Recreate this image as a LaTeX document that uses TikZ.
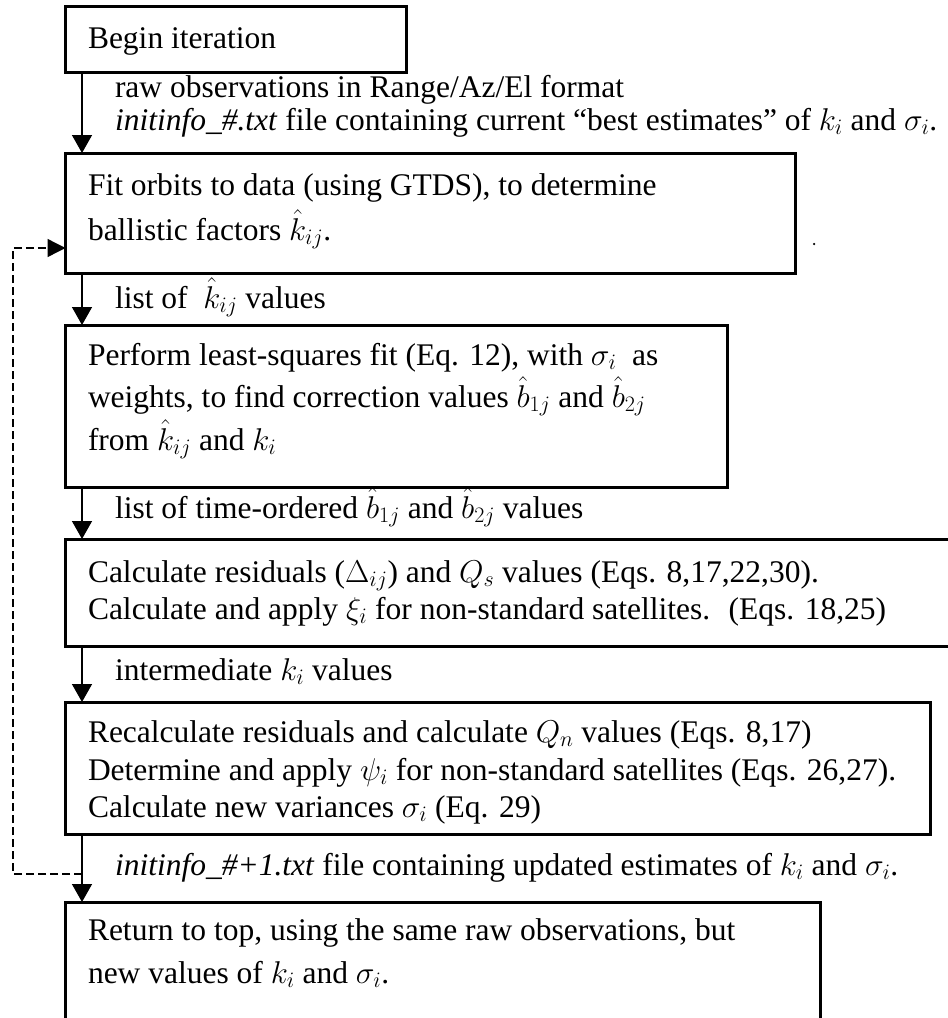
\RequirePackage{fix-cm}
\documentclass[tikz,border=0pt]{standalone}
\usepackage{fontspec}
\setmainfont{Liberation Serif}
\usetikzlibrary{arrows.meta,calc}
\tikzset{
  box/.style={draw, line width=3pt, rectangle, inner sep=0pt, outer sep=0pt, anchor=north west},
  txt/.style={anchor=base west, inner sep=0pt, outer sep=0pt},
  arr/.style={line width=1.4pt, -{Triangle[width=20pt,length=18pt]}},
  fbline/.style={line width=1.4pt, dash pattern=on 8pt off 4pt, -{Triangle[width=18pt,length=18pt]}}
}
\begin{document}
\begin{tikzpicture}[x=1pt,y=-1pt,font=\fontsize{31.5}{38}\selectfont]
\clip (0,0) rectangle (948,1018);
\fill[white] (0,0) rectangle (948,1018);
% boxes
\node[box, minimum width=341pt, minimum height=66pt] (b1) at (65.5,6) {};
\node[box, minimum width=730pt, minimum height=120pt] (b2) at (65.5,153) {};
\node[box, minimum width=662pt, minimum height=162pt] (b3) at (65.5,325) {};
\node[box, minimum width=900pt, minimum height=107pt] (b4) at (65.5,539) {};
\node[box, minimum width=865pt, minimum height=132pt] (b5) at (65.5,702) {};
\node[box, minimum width=755pt, minimum height=160pt] (b6) at (65.5,902) {};
% box texts
\node[txt] (t1) at (88,48) {Begin iteration};
\node[txt] (t2a) at (88,195) {Fit orbits to data (using GTDS), to determine};
\node[txt] (t2b) at (88,240) {ballistic factors $\hat{k}_{ij}$.};
\node[txt] (t3a) at (88,365) {Perform least-squares fit (Eq. 12), with $\sigma_i$~ as};
\node[txt] (t3b) at (88,407) {weights, to find correction values $\hat{b}_{1j}$ and $\hat{b}_{2j}$};
\node[txt] (t3c) at (88,450) {from $\hat{k}_{ij}$ and $k_i$};
\node[txt] (t4a) at (88,582) {Calculate residuals ($\Delta_{ij}$) and $Q_s$ values (Eqs. 8,17,22,30).};
\node[txt] (t4b) at (88,619) {Calculate and apply $\xi_i$ for non-standard satellites.~ (Eqs. 18,25)};
\node[txt] (t5a) at (88,742) {Recalculate residuals and calculate $Q_n$ values (Eqs. 8,17)};
\node[txt] (t5b) at (88,780) {Determine and apply $\psi_i$ for non-standard satellites (Eqs. 26,27).};
\node[txt] (t5c) at (88,817) {Calculate new variances $\sigma_i$ (Eq. 29)};
\node[txt] (t6a) at (88,940) {Return to top, using the same raw observations, but};
\node[txt] (t6b) at (88,983) {new values of $k_i$ and $\sigma_i$.};
% connector labels
\node[txt] (l1a) at (115,97) {raw observations in Range/Az/El format};
\node[txt] (l1b) at (115,130) {\textit{initinfo\_\#.txt} file containing current “best estimates” of $k_i$ and $\sigma_i$.};
\node[txt] (l2) at (115,308) {list of~ $\hat{k}_{ij}$ values};
\node[txt] (l3) at (115,518) {list of time-ordered $\hat{b}_{1j}$ and $\hat{b}_{2j}$ values};
\node[txt] (l4) at (115,680) {intermediate $k_i$ values};
\node[txt] (l5) at (115,875) {\textit{initinfo\_\#+1.txt} file containing updated estimates of $k_i$ and $\sigma_i$.};
% stray dot
\node[circle, fill, inner sep=0pt, minimum size=2.5pt] (dot) at (814,244) {};
% arrows
\draw[arr] ($(b1.south west)+(16.5,0)$) -- ($(b2.north west)+(16.5,0)$);
\draw[arr] ($(b2.south west)+(16.5,0)$) -- ($(b3.north west)+(16.5,0)$);
\draw[arr] ($(b3.south west)+(16.5,0)$) -- ($(b4.north west)+(16.5,0)$);
\draw[arr] ($(b4.south west)+(16.5,0)$) -- ($(b5.north west)+(16.5,0)$);
\draw[arr] ($(b5.south west)+(16.5,0)$) -- ($(b6.north west)+(16.5,0)$);
% feedback loop
\coordinate (fbj) at ($(b5.south west)+(16.5,40)$);
\coordinate (fbc1) at (13,874);
\coordinate (fbc2) at (13,248);
\draw[fbline] (fbj) -- (fbc1) -- (fbc2) -- (b2.west |- fbc2);
\end{tikzpicture}
\end{document}
